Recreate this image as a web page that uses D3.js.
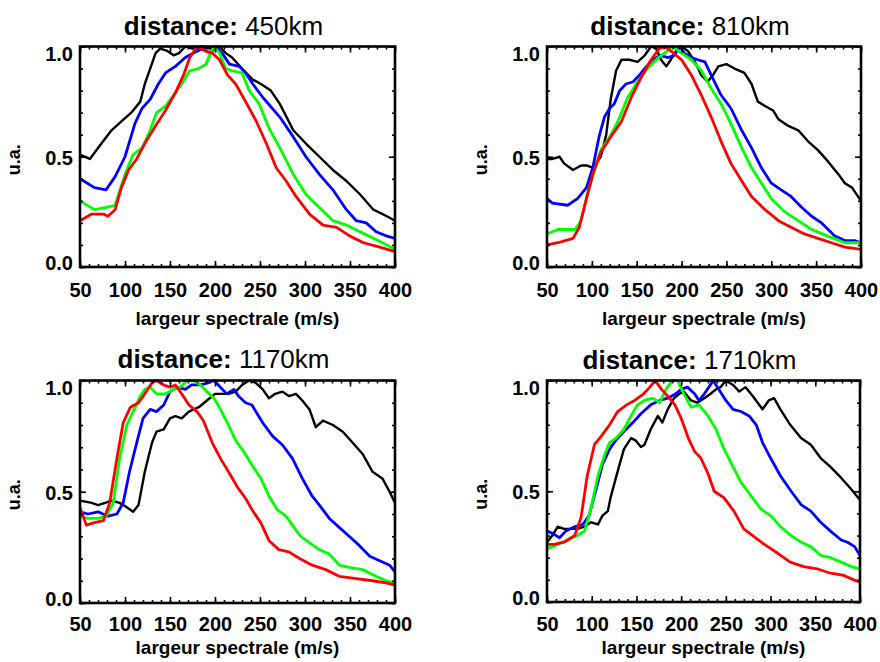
<!DOCTYPE html>
<html><head><meta charset="utf-8">
<script src="https://cdn.jsdelivr.net/npm/d3@7/dist/d3.min.js"></script>
<style>body{margin:0;background:#fff}svg{display:block}</style>
</head><body>
<svg id="chart" width="880" height="662"></svg>
<script>
// ---- data ----
const distances = ["450km", "810km", "1170km", "1710km"];
const xTickLabels = [50, 100, 150, 200, 250, 300, 350, 400];
const yTickLabels = [0.0, 0.5, 1.0];
const seriesColors = ["#000000", "#0000ff", "#00ff00", "#ff0000"];
const xLabel = "largeur spectrale (m/s)";
const yLabel = "u.a.";

const d450_black = [[50,.51],[61,.49],[70,.54],[85,.62],[96,.66],[107,.70],[117,.75],[122,.83],[128,.90],[134,.97],[139,.99],[147,.98],[154,.96],[160,.97],[167,1.0],[175,.99],[185,1.0],[195,.99],[205,1.0],[212,.97],[219,.95],[230,.90],[242,.85],[251,.83],[262,.80],[272,.74],[287,.62],[301,.56],[316,.50],[331,.44],[346,.39],[361,.33],[376,.26],[391,.23],[400,.21]];
const d450_blue = [[50,.40],[66,.36],[79,.35],[89,.41],[100,.50],[111,.65],[119,.72],[128,.76],[137,.83],[145,.88],[156,.91],[167,.95],[176,.97],[186,.99],[195,.97],[201,1.0],[208,.97],[216,.92],[227,.91],[234,.88],[242,.83],[253,.77],[272,.68],[287,.59],[301,.50],[316,.42],[331,.35],[346,.26],[357,.21],[368,.20],[379,.16],[391,.14],[400,.13]];
const d450_green = [[50,.30],[66,.26],[79,.27],[89,.28],[100,.42],[109,.51],[119,.54],[128,.62],[135,.70],[145,.73],[154,.78],[163,.83],[172,.89],[182,.90],[190,.92],[195,.97],[199,1.0],[205,.97],[212,.90],[219,.89],[230,.88],[238,.80],[249,.74],[260,.63],[272,.54],[287,.42],[301,.33],[316,.27],[331,.21],[346,.19],[361,.16],[376,.13],[391,.10],[400,.08]];
const d450_red = [[50,.21],[63,.24],[76,.24],[81,.23],[89,.26],[96,.36],[104,.44],[113,.49],[122,.56],[134,.64],[145,.71],[156,.79],[165,.87],[172,.95],[180,1.0],[189,.98],[197,.97],[205,.94],[214,.87],[223,.83],[234,.75],[246,.66],[257,.56],[268,.45],[279,.39],[290,.32],[305,.24],[320,.19],[335,.18],[350,.14],[365,.11],[383,.09],[400,.07]];

const d810_black = [[50,.49],[56,.49],[64,.50],[69,.47],[79,.44],[88,.46],[95,.46],[101,.45],[110,.50],[116,.60],[121,.76],[127,.89],[133,.94],[142,.94],[151,.93],[159,.96],[166,1.0],[172,.99],[177,.94],[183,.91],[188,.94],[194,.98],[200,1.0],[207,.98],[215,.93],[222,.87],[229,.84],[235,.87],[241,.91],[250,.92],[259,.90],[270,.88],[278,.83],[285,.75],[293,.73],[302,.71],[308,.67],[319,.64],[330,.62],[341,.57],[352,.53],[363,.48],[375,.42],[382,.38],[390,.36],[400,.30]];
const d810_blue = [[50,.31],[56,.29],[73,.28],[84,.31],[94,.36],[101,.45],[108,.59],[114,.68],[120,.72],[125,.74],[131,.80],[138,.83],[146,.84],[153,.87],[161,.91],[168,.94],[176,.96],[185,.95],[192,.96],[198,1.0],[203,.97],[211,.95],[218,.94],[226,.93],[233,.87],[244,.78],[255,.72],[267,.62],[278,.54],[289,.45],[300,.38],[311,.35],[322,.32],[334,.27],[345,.23],[356,.20],[371,.14],[382,.12],[393,.12],[400,.11]];
const d810_green = [[50,.15],[62,.17],[81,.17],[88,.21],[95,.33],[103,.44],[110,.53],[120,.59],[129,.66],[140,.77],[151,.84],[162,.90],[174,.95],[181,.97],[190,1.0],[200,.97],[211,.94],[222,.89],[233,.81],[244,.74],[255,.65],[267,.54],[278,.45],[289,.38],[300,.31],[315,.25],[330,.21],[345,.17],[363,.14],[382,.11],[400,.11]];
const d810_red = [[50,.10],[62,.11],[79,.13],[86,.18],[94,.31],[101,.42],[110,.52],[121,.59],[133,.66],[144,.77],[155,.86],[166,.94],[175,.99],[181,1.0],[188,.98],[200,.94],[211,.87],[222,.78],[233,.68],[244,.57],[255,.47],[267,.39],[278,.32],[293,.26],[308,.21],[322,.18],[337,.15],[352,.13],[367,.11],[382,.09],[400,.08]];

const d1170_black = [[50,.46],[63,.45],[70,.44],[78,.45],[85,.46],[94,.45],[102,.43],[109,.41],[115,.44],[122,.59],[130,.72],[135,.77],[143,.78],[150,.83],[156,.84],[163,.83],[171,.86],[182,.88],[191,.91],[200,.94],[208,.94],[215,.94],[223,.95],[230,.98],[238,1.0],[245,.99],[253,.96],[260,.92],[267,.94],[275,.95],[282,.93],[290,.94],[297,.91],[305,.87],[312,.79],[320,.82],[331,.80],[342,.77],[353,.72],[364,.67],[375,.59],[386,.56],[394,.50],[400,.45]];
const d1170_blue = [[50,.41],[59,.40],[70,.41],[81,.39],[91,.40],[98,.45],[105,.59],[113,.72],[120,.83],[128,.87],[135,.86],[143,.89],[150,.95],[158,.97],[167,.96],[174,.98],[184,.98],[193,.99],[199,1.0],[206,.97],[213,.94],[221,.96],[226,.93],[234,.90],[241,.89],[253,.81],[264,.75],[275,.71],[286,.65],[297,.56],[308,.48],[316,.44],[327,.38],[338,.34],[349,.30],[360,.26],[372,.21],[383,.19],[394,.17],[400,.14]];
const d1170_green = [[50,.39],[59,.38],[70,.38],[79,.39],[87,.45],[94,.65],[102,.80],[109,.86],[117,.93],[122,.96],[128,.97],[135,.94],[145,.94],[154,.96],[161,.97],[169,1.0],[176,1.0],[184,.98],[191,.95],[199,.92],[206,.87],[215,.80],[223,.73],[232,.68],[241,.62],[251,.56],[260,.48],[269,.42],[279,.39],[286,.35],[295,.30],[305,.27],[316,.24],[327,.22],[338,.17],[349,.16],[364,.15],[379,.12],[390,.10],[400,.09]];
const d1170_red = [[50,.43],[57,.35],[65,.36],[76,.37],[83,.45],[91,.65],[98,.81],[106,.88],[115,.90],[122,.94],[130,.99],[135,1.0],[143,.98],[150,.97],[156,.98],[163,.94],[171,.89],[180,.86],[187,.82],[197,.72],[206,.65],[215,.59],[225,.52],[234,.47],[241,.42],[251,.36],[260,.28],[271,.24],[282,.23],[294,.20],[308,.17],[323,.15],[338,.12],[357,.11],[375,.10],[390,.09],[400,.08]];

const d1710_black = [[50,.27],[56,.30],[62,.34],[69,.33],[77,.33],[84,.33],[92,.34],[99,.36],[107,.35],[112,.39],[118,.41],[121,.47],[129,.59],[136,.69],[144,.74],[149,.73],[155,.70],[159,.71],[166,.78],[174,.84],[179,.81],[185,.87],[192,.92],[198,.94],[203,.95],[211,.91],[218,.90],[226,.92],[233,.94],[239,.96],[244,.97],[250,1.0],[258,.98],[265,.95],[272,.97],[280,.93],[291,.87],[298,.91],[304,.92],[311,.87],[322,.80],[334,.74],[345,.71],[356,.65],[367,.61],[379,.56],[390,.51],[400,.46]];
const d1710_blue = [[50,.32],[56,.31],[64,.29],[71,.32],[81,.34],[90,.35],[97,.39],[105,.51],[112,.62],[120,.69],[127,.73],[136,.77],[146,.81],[155,.85],[166,.89],[176,.91],[185,.92],[194,.94],[200,.96],[207,.97],[215,.94],[220,.91],[226,.94],[231,.97],[236,1.0],[242,.96],[250,.91],[258,.87],[267,.86],[276,.84],[284,.80],[291,.72],[300,.65],[311,.57],[323,.50],[334,.44],[345,.41],[356,.36],[367,.32],[379,.28],[386,.27],[394,.25],[400,.21]];
const d1710_green = [[50,.24],[62,.26],[73,.28],[84,.30],[92,.32],[99,.42],[107,.57],[114,.66],[120,.72],[127,.74],[136,.78],[144,.84],[151,.89],[159,.91],[168,.92],[176,.90],[183,.96],[190,1.0],[196,1.0],[203,.94],[211,.88],[220,.89],[230,.84],[239,.78],[248,.69],[258,.61],[267,.54],[278,.48],[289,.42],[300,.39],[311,.34],[323,.30],[334,.27],[345,.25],[356,.21],[367,.20],[379,.18],[390,.16],[400,.15]];
const d1710_red = [[50,.26],[58,.26],[69,.27],[81,.30],[88,.38],[95,.57],[103,.71],[111,.75],[120,.80],[129,.86],[139,.89],[148,.91],[158,.94],[165,.97],[171,1.0],[178,.96],[185,.93],[193,.89],[200,.83],[208,.74],[215,.68],[222,.65],[230,.58],[237,.50],[248,.47],[259,.41],[270,.33],[280,.30],[293,.26],[308,.22],[322,.18],[337,.16],[352,.15],[367,.13],[382,.12],[393,.10],[400,.09]];

// panel table built from the arrays (order black, blue, green, red)
const panelSeries = [
  [d450_black, d450_blue, d450_green, d450_red],
  [d810_black, d810_blue, d810_green, d810_red],
  [d1170_black, d1170_blue, d1170_green, d1170_red],
  [d1710_black, d1710_blue, d1710_green, d1710_red]
];

// ---- layout ----
const boxes = [
  {x0: 80, x1: 395, y0: 46.5, y1: 267, tickPad: 16, labelOff: 58, titleY: 35},
  {x0: 547, x1: 861, y0: 46.5, y1: 267, tickPad: 16, labelOff: 58, titleY: 35},
  {x0: 80, x1: 395, y0: 380.5, y1: 603, tickPad: 14, labelOff: 51, titleY: 368},
  {x0: 547, x1: 860, y0: 380.5, y1: 602, tickPad: 15, labelOff: 52, titleY: 369}
];
const FONT = "'Liberation Sans', Arial, Helvetica, sans-serif";

const svg = d3.select("#chart");

panelSeries.forEach((series, i) => {
  const b = boxes[i];
  const x = d3.scaleLinear().domain([50, 400]).range([b.x0, b.x1]);
  const y = d3.scaleLinear().domain([0, 1]).range([b.y1, b.y0]);
  const g = svg.append("g");

  // curves
  const line = d3.line().x(d => x(d[0])).y(d => y(d[1]));
  series.forEach((s, k) => {
    g.append("path").datum(s)
      .attr("d", line)
      .attr("fill", "none")
      .attr("stroke", seriesColors[k])
      .attr("stroke-width", k === 0 ? 2.4 : 2.8)
      .attr("stroke-linejoin", "round");
  });

  // inward ticks
  const minorX = d3.range(50, 401, 10);
  const minorY = d3.range(0, 1.0001, 0.1);
  const tickStyle = sel => { sel.select(".domain").remove(); sel.selectAll("line").attr("stroke", "#000").attr("stroke-width", 1.6); sel.selectAll("text").remove(); };
  g.append("g").attr("transform", `translate(0,${b.y1})`).call(d3.axisBottom(x).tickValues(minorX).tickSize(-3)).call(tickStyle);
  g.append("g").attr("transform", `translate(0,${b.y1})`).call(d3.axisBottom(x).tickValues(xTickLabels).tickSize(-6)).call(tickStyle);
  g.append("g").attr("transform", `translate(0,${b.y0})`).call(d3.axisTop(x).tickValues(minorX).tickSize(-3)).call(tickStyle);
  g.append("g").attr("transform", `translate(0,${b.y0})`).call(d3.axisTop(x).tickValues(xTickLabels).tickSize(-6)).call(tickStyle);
  g.append("g").attr("transform", `translate(${b.x0},0)`).call(d3.axisLeft(y).tickValues(minorY).tickSize(-3)).call(tickStyle);
  g.append("g").attr("transform", `translate(${b.x0},0)`).call(d3.axisLeft(y).tickValues(yTickLabels).tickSize(-6)).call(tickStyle);
  g.append("g").attr("transform", `translate(${b.x1},0)`).call(d3.axisRight(y).tickValues(minorY).tickSize(-3)).call(tickStyle);
  g.append("g").attr("transform", `translate(${b.x1},0)`).call(d3.axisRight(y).tickValues(yTickLabels).tickSize(-6)).call(tickStyle);

  // frame
  g.append("rect").attr("x", b.x0).attr("y", b.y0)
    .attr("width", b.x1 - b.x0).attr("height", b.y1 - b.y0)
    .attr("fill", "none").attr("stroke", "#000").attr("stroke-width", 2.6);

  // tick labels
  const xl = g.append("g").attr("transform", `translate(0,${b.y1})`)
    .call(d3.axisBottom(x).tickValues(xTickLabels).tickSize(0).tickPadding(b.tickPad).tickFormat(d3.format("d")));
  xl.select(".domain").remove();
  xl.selectAll("text").attr("font-family", FONT).attr("font-weight", "bold").attr("font-size", 20).attr("fill", "#000").attr("dy", "0.71em");

  const yl = g.append("g").attr("transform", `translate(${b.x0},0)`)
    .call(d3.axisLeft(y).tickValues(yTickLabels).tickSize(0).tickPadding(7).tickFormat(d3.format(".1f")));
  yl.select(".domain").remove();
  yl.selectAll("text").attr("font-family", FONT).attr("font-weight", "bold").attr("font-size", 20).attr("fill", "#000")
    .attr("dy", d => d === 1 ? "0.68em" : d === 0 ? "0.12em" : "0.38em");

  // axis titles
  g.append("text").attr("x", (b.x0 + b.x1) / 2).attr("y", b.y1 + b.labelOff)
    .attr("text-anchor", "middle").attr("font-family", FONT).attr("font-weight", "bold").attr("font-size", 19)
    .attr("fill", "#000").text(xLabel);
  g.append("text").attr("transform", `translate(${b.x0 - 60},${(b.y0 + b.y1) / 2 + 3}) rotate(-90)`)
    .attr("text-anchor", "middle").attr("font-family", FONT).attr("font-weight", "bold").attr("font-size", 18)
    .attr("fill", "#000").text(yLabel);

  // panel title
  const t = g.append("text").attr("x", (b.x0 + b.x1) / 2 - 14).attr("y", b.titleY)
    .attr("text-anchor", "middle").attr("font-family", FONT).attr("font-size", 26).attr("fill", "#000");
  t.append("tspan").attr("font-weight", "bold").text("distance:");
  t.append("tspan").attr("font-weight", "normal").text(" " + distances[i]);
});
</script>
</body></html>
